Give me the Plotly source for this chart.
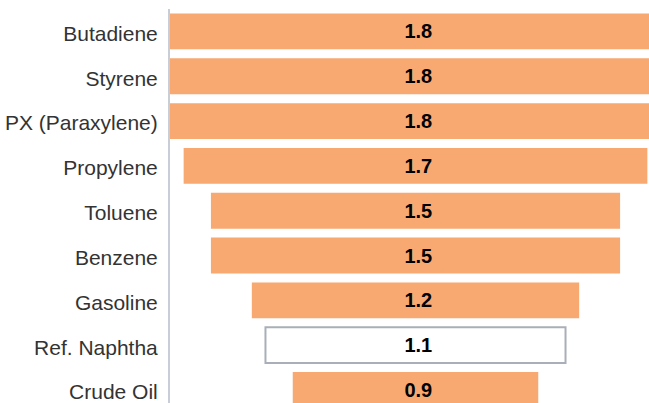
import plotly.graph_objects as go

categories = ["Butadiene", "Styrene", "PX (Paraxylene)", "Propylene", "Toluene",
              "Benzene", "Gasoline", "Ref. Naphtha", "Crude Oil"]
values = [1.8, 1.8, 1.8, 1.7, 1.5, 1.5, 1.2, 1.1, 0.9]
highlight = "Ref. Naphtha"

fill = ["#ffffff" if c == highlight else "#f8a972" for c in categories]
line_col = ["#a9aeb8" if c == highlight else "rgba(0,0,0,0)" for c in categories]
line_w = [2 if c == highlight else 0 for c in categories]

fig = go.Figure(go.Funnel(
    y=categories,
    x=values,
    orientation="h",
    marker=dict(color=fill, line=dict(color=line_col, width=line_w)),
    text=[f"\u00a0{v:.1f}" for v in values],
    texttemplate="<b>%{text}</b>",
    textposition="inside",
    insidetextanchor="middle",
    insidetextfont=dict(family="Liberation Sans, Arial, sans-serif", size=20, color="#000000"),
    textfont=dict(family="Liberation Sans, Arial, sans-serif", size=20, color="#000000"),
    connector=dict(visible=False),
    hoverinfo="skip",
))

fig.update_layout(
    width=649, height=403,
    margin=dict(l=170, r=0, t=9, b=0),
    paper_bgcolor="white",
    plot_bgcolor="white",
    bargap=0.075,
    showlegend=False,
    font=dict(family="Liberation Sans, Arial, sans-serif"),
)
fig.update_xaxes(range=[-0.9, 0.856], visible=False, showgrid=False, zeroline=False)
fig.update_yaxes(
    range=[8.29, -0.5], autorange=False,
    showline=True, linecolor="#c9cdd5", linewidth=2,
    showgrid=False, zeroline=False,
    ticks="outside", ticklen=6, tickcolor="rgba(0,0,0,0)",
    ticklabelshift=-2,
    tickfont=dict(size=21, color="#333333", family="Liberation Sans, Arial, sans-serif"),
)

fig.write_html("out.html")
